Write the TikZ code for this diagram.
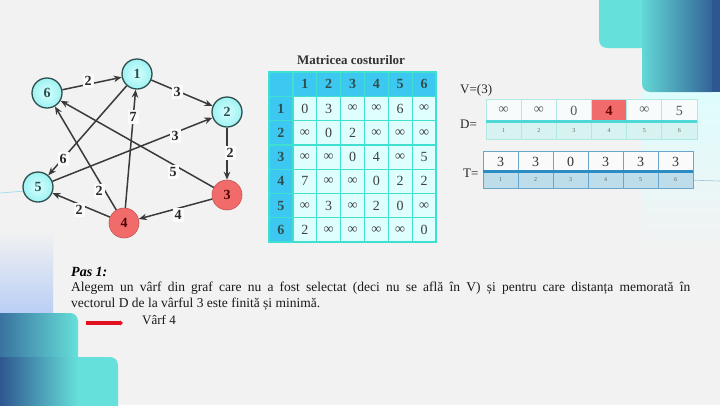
\documentclass[tikz,border=0pt]{standalone}
\usepackage{fontspec}
\setmainfont{Liberation Serif}
\usetikzlibrary{arrows.meta,shapes.geometric}
\definecolor{bgc}{HTML}{F2F2F2}
\definecolor{cyanA}{HTML}{66E0DA}
\definecolor{navy}{HTML}{2E5690}
\definecolor{edgec}{HTML}{3A3A3A}
\definecolor{slate}{HTML}{2F4F4F}
\definecolor{nodecy}{HTML}{9EF2F2}
\definecolor{nodecyl}{HTML}{D6FFFF}
\definecolor{nodered}{HTML}{F26B6B}
\definecolor{hdr}{HTML}{3CC8F0}
\definecolor{turq}{HTML}{40E0D0}
\definecolor{lcyan}{HTML}{DFFFFF}
\definecolor{dtopc}{HTML}{F7FBFB}
\definecolor{dbord}{HTML}{B0E8E4}
\definecolor{dbot}{HTML}{D6F3F1}
\definecolor{dline}{HTML}{4ED8D6}
\definecolor{tbord}{HTML}{6AA6CC}
\definecolor{tline}{HTML}{2C8CC4}
\definecolor{tbot}{HTML}{BCDDE9}
\definecolor{arrred}{HTML}{E0101E}
\newcommand\inff{∞}
\tikzset{
  cnode/.style={circle,minimum size=30pt,inner sep=0pt,draw=slate,line width=1.3pt,inner color=nodecyl,outer color=nodecy,text=slate,font=\fontsize{14}{14}\selectfont\bfseries},
  rnode/.style={circle,minimum size=30pt,inner sep=0pt,draw=nodered!80!black,line width=0.6pt,fill=nodered,text=black!70!red,font=\fontsize{14}{14}\selectfont\bfseries},
  conn/.style={draw=edgec,line width=1.5pt,-{Stealth[length=8pt,width=6.5pt]}},
  elabel/.style={fill=white!70!bgc,inner sep=2pt,text=black!85,font=\fontsize{14}{14}\selectfont\bfseries},
  mcell/.style={draw=turq,line width=1.3pt,fill=lcyan,minimum width=23.86pt,minimum height=24.3pt,inner sep=0pt,text=black!75,font=\fontsize{14}{14}\selectfont},
  mhead/.style={mcell,fill=hdr,text=slate,font=\fontsize{14}{14}\selectfont\bfseries},
  dtop/.style={draw=dbord,line width=0.8pt,fill=dtopc,minimum width=35.17pt,minimum height=23pt,inner sep=0pt,text=black!65,font=\fontsize{14}{14}\selectfont},
  dbotc/.style={draw=dbord,line width=0.8pt,fill=dbot,minimum width=35.17pt,minimum height=17pt,inner sep=0pt,text=black!60,font=\fontsize{6}{6}\selectfont},
  ttop/.style={draw=tbord,line width=0.8pt,fill=white!60!bgc,minimum width=35pt,minimum height=21pt,inner sep=0pt,text=black!80,font=\fontsize{14}{14}\selectfont},
  tbotc/.style={draw=tbord,line width=0.8pt,fill=tbot,minimum width=35pt,minimum height=16pt,inner sep=0pt,text=black!60,font=\fontsize{6}{6}\selectfont},
  plain/.style={inner sep=0pt,text=black!85,font=\fontsize{13}{13}\selectfont}
}
\begin{document}
\begin{tikzpicture}[x=1pt,y=-1pt]
\useasboundingbox (0,0) rectangle (720,405);
\clip (0,0) rectangle (720,405);
\fill[bgc] (0,0) rectangle (720,405);
% decorations top-right
\shade[top color=bgc!60!cyan!30!white, bottom color=bgc] (642,92) rectangle (720,250);
\fill[cyanA,rounded corners=8pt] (599,-20) rectangle (740,48);
\shade[left color=cyanA!85!navy!40!cyanA, right color=navy, rounded corners=8pt] (642,-20) rectangle (720,92);
\fill[navy] (712,-20) rectangle (720,92);
% decorations bottom-left
\shade[top color=bgc, bottom color=cyan!10!bgc!85!blue] (0,230) rectangle (53,313);
\fill[cyanA,rounded corners=8pt] (-20,357) rectangle (118,425);
\shade[left color=navy, right color=cyanA, rounded corners=8pt] (-20,313) rectangle (78,425);
\shade[left color=navy, right color=cyanA] (0,357) rectangle (78,405);
\draw[cyan!40!bgc,line width=0.6pt] (0,193) -- (25,191);
\draw[tbord!60!bgc,line width=0.6pt] (650,179) -- (720,181);

% graph nodes
\node[cnode] (n6) at (47,93) {6};
\node[cnode] (n1) at (137,74) {1};
\node[cnode] (n2) at (227,112) {2};
\node[cnode] (n5) at (38,187) {5};
\node[rnode] (n4) at (124,223) {4};
\node[rnode] (n3) at (227,195) {3};
% edges
\draw[conn] (n6) -- (n1);
\draw[conn] (n1) -- (n2);
\draw[conn] (n4) -- (n1);
\draw[conn] (n5) -- (n2);
\draw[conn] (n2) -- (n3);
\draw[conn] (n3) -- (n6);
\draw[conn] (n3) -- (n4);
\draw[conn] (n1) -- (n5);
\draw[conn] (n4) -- (n6);
\draw[conn] (n4) -- (n5);
% edge labels
\node[elabel] (l61) at (88,81) {2};
\node[elabel] (l12) at (177,92) {3};
\node[elabel] (l41) at (133,117) {7};
\node[elabel] (l52) at (175,136) {3};
\node[elabel] (l23) at (230,153) {2};
\node[elabel] (l36) at (173,172) {5};
\node[elabel] (l34) at (178,215) {4};
\node[elabel] (l15) at (63,159) {6};
\node[elabel] (l46) at (99,191) {2};
\node[elabel] (l45) at (79,210) {2};

% matrix
\node[inner sep=0pt,text=black!80,font=\fontsize{13}{13}\selectfont\bfseries] (mtitle) at (351,60) {Matricea costurilor};
\node[mhead] (m-0-0) at ({269+11.93},{72+12.15}) {};
\foreach \c in {1,...,6}{
  \node[mhead] (m-0-\c) at ({269+23.86*\c+11.93},{72+12.15}) {\c};
  \node[mhead] (m-\c-0) at ({269+11.93},{72+24.3*\c+12.15}) {\c};
}
\foreach \row [count=\r] in {{0,3,\inff,\inff,6,\inff},{\inff,0,2,\inff,\inff,\inff},{\inff,\inff,0,4,\inff,5},{7,\inff,\inff,0,2,2},{\inff,3,\inff,2,0,\inff},{2,\inff,\inff,\inff,\inff,0}}{
  \foreach \v [count=\c] in \row {
    \node[mcell] (m-\r-\c) at ({269+23.86*\c+11.93},{72+24.3*\r+12.15}) {\v};
  }
}

% V, D, T
\node[plain,anchor=west] (vlab) at (460,90) {V=(3)};
\node[plain,anchor=west] (dlab) at (460,124) {D=};
\node[plain,anchor=west] (tlab) at (463,173) {T=};
\foreach \v [count=\c] in {\inff,\inff,0,4,\inff,5}{
  \node[dtop] (d-\c) at ({486+35.17*\c-17.58},110.5) {\v};
  \node[dbotc] (di-\c) at ({486+35.17*\c-17.58},130.5) {\c};
}
\node[dtop,fill=nodered,text=black!60!red,font=\fontsize{14}{14}\selectfont\bfseries] (d-4r) at ({486+35.17*4-17.58},110.5) {4};
\draw[dline,line width=3pt] (di-1.north west) -- (di-6.north east);
\foreach \v [count=\c] in {3,3,0,3,3,3}{
  \node[ttop] (t-\c) at ({483+35*\c-17.5},161.5) {\v};
  \node[tbotc] (ti-\c) at ({483+35*\c-17.5},180) {\c};
}
\draw[tline,line width=3pt] (ti-1.north west) -- (ti-6.north east);

% text
\node[inner sep=0pt,anchor=west,text=black,font=\fontsize{14}{14}\selectfont\bfseries\itshape] (pas) at (71,272) {Pas 1:};
\node[inner sep=0pt,anchor=north west,text width=619pt,align=justify,text=black!90,font=\fontsize{13.5}{16}\selectfont] (para) at (71,282) {Alegem un vârf din graf care nu a fost selectat (deci nu se află în V) și pentru care distanța memorată în\linebreak vectorul D de la vârful 3 este finită și minimă.};
\coordinate (ra1) at (86,323);
\coordinate (ra2) at (123,323);
\draw[arrred,line width=4pt,-{Triangle[length=3pt,width=5pt]}] (ra1) -- (ra2);
\node[plain,anchor=west,text=black!90] (varf) at (142,320) {Vârf 4};
\end{tikzpicture}
\end{document}
